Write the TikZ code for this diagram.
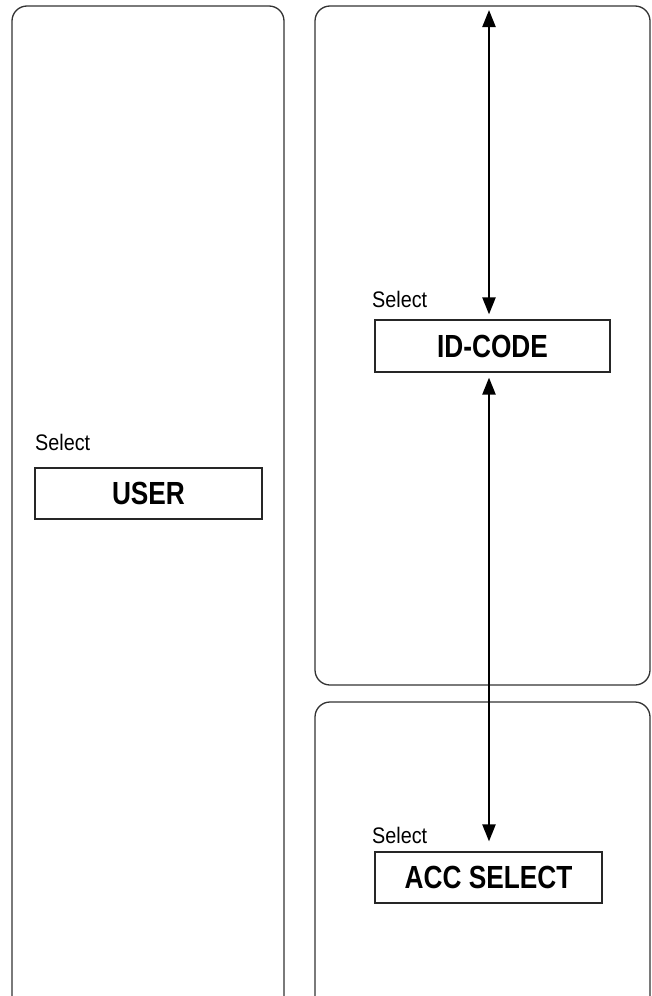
\documentclass[tikz,border=0pt]{standalone}
\usepackage{fontspec}
\setmainfont{Liberation Sans}[FakeStretch=0.82]
\newfontfamily\selfont{Liberation Sans}[FakeStretch=0.88]
\usetikzlibrary{arrows.meta}
\tikzset{
  panel/.style={draw=black!80, line width=1.3pt, rounded corners=15pt},
  menubox/.style={draw=black!85, line width=1.2pt, inner sep=0pt, font=\fontsize{32}{36}\selectfont\bfseries},
  selectlbl/.style={inner sep=0pt, anchor=base west, font=\selfont\fontsize{22.5}{26}\selectfont},
  flow/.style={line width=2.3pt, {Triangle[length=17pt,width=13pt]}-{Triangle[length=17pt,width=13pt]}}
}
\begin{document}
\begin{tikzpicture}[x=1pt,y=-1pt]
\clip (0,0) rectangle (651,996);
\fill[white] (0,0) rectangle (651,996);
% panels
\draw[panel] (12,6) rectangle (284,1012);
\draw[panel] (315,6) rectangle (650,685);
\draw[panel] (315,702) rectangle (650,1012);
% boxes
\node[menubox, minimum width=227pt, minimum height=51pt] (user) at (148.5,493.5) {USER};
\node[menubox, minimum width=235pt, minimum height=52pt] (idcode) at (492.5,346) {ID-CODE};
\node[menubox, minimum width=227pt, minimum height=51pt] (acc) at (488.5,877.5) {ACC SELECT};
% labels
\node[selectlbl] (sel1) at (35,450) {Select};
\node[selectlbl] (sel2) at (372,307) {Select};
\node[selectlbl] (sel3) at (372,843) {Select};
% arrows
\coordinate (top) at (489,10);
\draw[flow, shorten >=5pt] (top) -- (idcode.north -| top);
\draw[flow, shorten <=5pt, shorten >=10pt] (idcode.south -| top) -- (acc.north -| top);
\end{tikzpicture}
\end{document}
